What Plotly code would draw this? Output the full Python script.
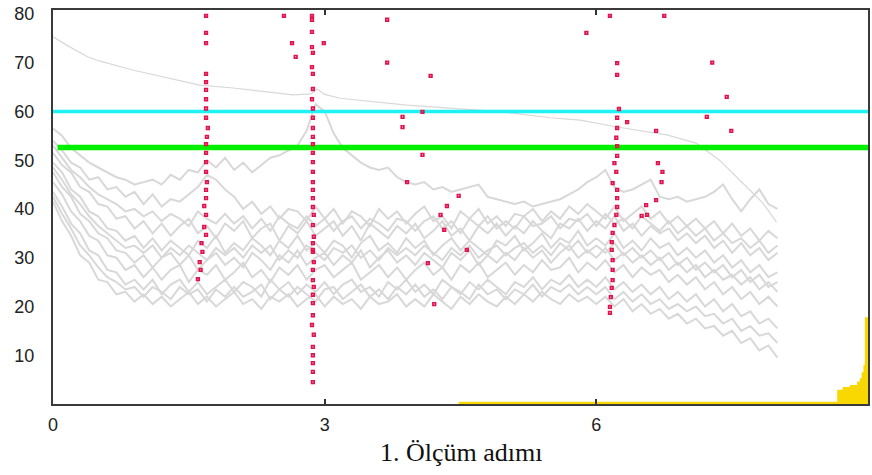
import plotly.graph_objects as go

# measurement grid (step 0.1 from 0 to 8)
x_grid = [round(i * 0.1, 1) for i in range(81)]

# smooth upper curve
top_x = [0, 0.15, 0.38, 0.52, 0.88, 1.26, 1.62, 1.99, 2.36, 2.65, 2.85, 2.92, 3.0, 3.17,
         3.91, 4.38, 4.97, 5.49, 5.82, 6.23, 6.78, 7.1, 7.36, 7.66, 7.84, 7.99]
top_y = [75.3, 73.6, 71.2, 70.3, 68.5, 66.9, 65.4, 64.8, 64.0, 63.4, 63.6, 64.6, 63.5, 62.7,
         61.3, 60.7, 59.9, 58.7, 58.2, 56.8, 55.2, 53.5, 50.0, 44.5, 41.2, 37.3]

s_peak = [56.5, 55.0, 52.5, 51.0, 49.5, 48.5, 47.5, 46.5, 46.0, 45.0,
          45.5, 46.0, 45.0, 47.0, 46.0, 48.0, 47.5, 50.0, 48.5, 50.5,
          48.0, 49.5, 47.5, 49.0, 50.5, 51.0, 52.0, 53.0, 56.0, 61.5,
          60.0, 55.5, 52.5, 51.0, 49.5, 48.5, 48.0, 48.5, 46.5, 45.5,
          45.0, 45.5, 44.0, 44.5, 43.5, 44.0, 44.5, 45.0, 42.5, 42.0,
          41.5, 41.0, 41.5, 40.5, 41.0, 41.5, 42.0, 43.0, 44.0, 45.5,
          46.5, 48.0, 44.5, 43.5, 44.0, 45.0, 46.0, 42.5, 42.0, 42.5,
          41.5, 42.0, 42.5, 43.5, 45.0, 42.0, 39.5, 42.0, 44.0, 41.0, 40.0]
s3 = [54.0, 52.0, 49.5, 48.5, 46.0, 46.5, 44.0, 44.5, 42.5, 43.5,
      41.0, 43.0, 40.5, 42.0, 41.5, 43.0, 44.5, 47.0, 46.0, 44.0,
      42.5, 40.0, 41.5, 39.0, 40.5, 38.0, 40.0, 39.5, 37.5, 40.5,
      38.0, 40.0, 37.0, 39.5, 38.5, 36.5, 40.0, 38.0, 39.5, 37.0,
      39.0, 40.5, 37.5, 38.5, 36.0, 39.5, 38.0, 40.0, 37.0, 38.5,
      36.5, 39.0, 38.5, 40.0, 37.5, 39.5, 38.0, 40.5, 39.0, 41.0,
      39.5, 38.0, 40.5, 37.5, 39.0, 40.5, 38.0, 39.5, 37.0, 38.5,
      36.5, 38.0, 36.0, 37.5, 35.0, 37.0, 34.5, 36.0, 33.5, 35.5, 34.0]
sA = [53.0, 50.5, 48.0, 46.5, 44.5, 43.0, 42.0, 41.0, 39.5, 40.0,
      38.5, 39.5, 37.5, 39.0, 38.0, 36.5, 39.5, 38.0, 37.0, 39.0,
      37.0, 38.5, 36.0, 38.0, 35.5, 38.5, 37.0, 36.0, 38.5, 36.5,
      38.0, 35.5, 37.5, 38.5, 36.0, 38.0, 37.0, 35.5, 38.0, 37.5,
      35.5, 37.5, 38.5, 36.0, 37.5, 35.0, 38.0, 36.5, 38.5, 36.0,
      37.5, 36.0, 38.5, 36.5, 37.0, 38.5, 36.0, 38.0, 37.5, 39.0,
      36.5, 39.0, 37.0, 38.0, 36.0, 38.5, 37.0, 35.5, 37.5, 35.0,
      36.5, 34.5, 36.0, 33.5, 35.0, 33.0, 34.0, 32.0, 33.5, 31.0, 32.5]
s4 = [51.5, 49.0, 47.5, 44.5, 43.5, 41.0, 40.5, 38.0, 38.5, 36.0,
      37.5, 35.0, 37.0, 34.5, 36.5, 38.0, 35.0, 36.5, 34.0, 37.0,
      35.5, 37.5, 34.0, 36.0, 37.0, 33.5, 36.5, 35.0, 37.5, 34.5,
      36.0, 37.5, 34.5, 36.5, 33.5, 37.0, 35.5, 34.0, 36.5, 35.0,
      37.0, 34.0, 35.5, 37.5, 34.5, 36.0, 33.5, 36.5, 35.0, 37.0,
      34.5, 36.5, 35.0, 37.5, 35.5, 34.0, 37.0, 36.0, 38.0, 35.5,
      37.5, 36.0, 38.5, 35.5, 37.0, 34.5, 36.5, 35.0, 36.0, 33.5,
      35.0, 33.0, 34.5, 32.0, 33.5, 31.0, 33.0, 30.5, 32.0, 29.5, 31.0]
s5 = [49.5, 47.5, 44.0, 42.5, 39.5, 38.5, 36.0, 35.5, 33.5, 34.5,
      32.0, 34.0, 31.5, 33.5, 32.0, 30.5, 33.5, 32.0, 34.5, 31.0,
      33.0, 31.5, 34.0, 32.5, 30.5, 33.5, 32.0, 34.5, 31.5, 33.0,
      31.0, 33.5, 32.5, 30.0, 33.0, 34.5, 31.5, 33.0, 31.0, 34.0,
      32.0, 33.5, 30.5, 32.5, 34.0, 31.5, 33.5, 32.0, 30.5, 33.5,
      32.5, 34.5, 31.5, 33.0, 35.0, 32.0, 34.0, 33.0, 35.5, 32.5,
      34.0, 32.5, 35.0, 32.0, 33.5, 31.5, 34.0, 32.0, 33.0, 30.5,
      32.0, 30.0, 31.5, 29.0, 30.5, 28.0, 29.5, 27.0, 28.5, 26.0, 27.0]
sB = [48.5, 46.0, 43.0, 41.0, 38.5, 36.5, 35.0, 33.5, 32.0, 32.5,
      31.0, 32.5, 30.0, 32.0, 30.5, 32.5, 31.0, 29.5, 32.0, 30.5,
      32.0, 30.0, 32.5, 31.0, 32.5, 29.5, 31.5, 30.0, 32.5, 31.0,
      29.5, 32.0, 31.0, 32.5, 30.0, 31.5, 29.5, 32.0, 30.5, 32.0,
      30.5, 32.5, 31.0, 29.5, 32.0, 30.5, 32.5, 30.0, 31.5, 32.5,
      30.5, 32.0, 33.0, 31.0, 32.5, 30.5, 33.0, 31.5, 33.5, 31.0,
      32.5, 31.0, 33.0, 30.5, 32.0, 30.0, 31.5, 29.5, 31.0, 28.5,
      30.0, 27.5, 29.0, 27.0, 28.5, 26.0, 27.5, 25.0, 26.5, 24.0, 25.0]
s6 = [47.5, 44.5, 42.5, 39.0, 37.5, 35.0, 34.0, 31.5, 31.0, 29.0,
      30.5, 28.0, 30.0, 31.0, 28.5, 30.5, 27.5, 29.5, 31.0, 28.5,
      30.0, 28.0, 31.0, 29.5, 27.5, 30.5, 29.0, 31.5, 28.5, 30.0,
      31.0, 28.5, 30.5, 29.0, 31.5, 28.0, 30.0, 31.5, 29.0, 30.5,
      28.5, 31.0, 29.5, 28.0, 31.0, 29.5, 31.5, 28.5, 30.5, 29.0,
      31.0, 29.5, 32.0, 30.0, 31.5, 29.0, 31.0, 32.5, 30.0, 31.5,
      30.0, 32.0, 29.5, 31.0, 29.0, 30.5, 28.5, 30.0, 27.5, 29.0,
      27.0, 28.5, 26.0, 27.5, 25.5, 26.5, 24.5, 26.0, 23.5, 25.0, 23.0]
s7 = [45.5, 43.0, 39.5, 37.5, 34.5, 33.5, 30.5, 30.0, 27.5, 28.5,
      26.0, 28.0, 25.5, 27.5, 28.5, 25.0, 27.5, 26.5, 28.5, 25.5,
      27.0, 29.0, 26.0, 27.5, 25.0, 28.0, 26.5, 28.5, 25.5, 27.5,
      28.5, 26.0, 27.5, 29.0, 25.5, 27.0, 28.5, 26.0, 28.0, 25.5,
      27.5, 29.0, 26.5, 28.0, 25.5, 28.5, 27.0, 29.0, 26.0, 27.5,
      29.0, 26.5, 28.5, 27.0, 29.5, 27.5, 28.0, 30.0, 27.0, 29.0,
      27.5, 29.5, 27.0, 28.5, 26.0, 28.0, 26.5, 27.5, 25.0, 26.5,
      24.5, 26.0, 23.5, 25.0, 22.5, 24.0, 21.5, 23.0, 20.5, 22.0, 20.0]
s8 = [43.5, 40.5, 37.0, 35.0, 31.5, 30.5, 27.5, 27.0, 24.5, 25.5,
      23.5, 25.5, 22.5, 24.5, 25.5, 23.0, 25.0, 22.5, 24.0, 25.5,
      23.0, 25.0, 24.0, 22.0, 25.5, 23.5, 25.0, 22.5, 24.5, 23.0,
      25.0, 22.5, 24.5, 25.5, 23.0, 24.0, 22.0, 25.0, 23.5, 25.5,
      23.0, 24.5, 22.5, 25.5, 24.0, 22.5, 25.0, 23.5, 25.5, 24.0,
      22.5, 25.0, 24.0, 26.0, 23.5, 25.5, 24.5, 26.5, 24.0, 25.5,
      24.0, 26.0, 23.5, 25.0, 23.0, 24.5, 22.5, 24.0, 21.5, 23.0,
      21.0, 22.5, 20.0, 21.5, 19.0, 20.5, 18.0, 19.0, 16.5, 17.5, 15.5]
sC = [42.5, 39.0, 36.0, 32.5, 30.5, 28.0, 26.0, 25.0, 23.5, 24.0,
      22.0, 24.0, 23.0, 21.5, 24.0, 22.5, 23.5, 21.0, 23.5, 22.0,
      24.0, 22.0, 23.0, 24.5, 21.5, 23.5, 22.0, 24.0, 22.5, 21.0,
      23.5, 24.0, 21.5, 23.0, 24.5, 22.0, 23.5, 21.5, 24.0, 22.5,
      24.5, 22.0, 23.5, 21.5, 24.0, 23.0, 21.5, 24.5, 22.5, 23.5,
      21.5, 23.5, 22.5, 24.5, 22.0, 24.0, 23.0, 24.5, 22.5, 24.0,
      22.5, 24.0, 21.5, 23.0, 21.0, 22.5, 20.5, 21.5, 19.5, 20.5,
      19.0, 20.0, 18.0, 18.5, 16.5, 17.5, 15.0, 16.0, 14.0, 14.5, 12.5]
s9 = [41.5, 37.5, 34.5, 30.5, 29.0, 25.5, 25.0, 22.5, 23.0, 21.0,
      22.5, 20.5, 22.0, 20.0, 21.5, 23.0, 20.5, 22.0, 20.0, 21.5,
      23.0, 20.5, 21.5, 19.5, 22.0, 21.0, 22.5, 20.0, 21.5, 22.5,
      20.0, 22.0, 20.5, 21.5, 19.5, 22.0, 20.5, 21.0, 22.5, 20.0,
      21.5, 20.0, 22.5, 21.0, 19.5, 22.0, 20.5, 22.5, 21.0, 20.0,
      22.0, 20.5, 22.5, 21.0, 23.0, 21.5, 20.5, 22.5, 21.0, 22.0,
      20.5, 22.0, 20.0, 21.5, 19.0, 20.5, 18.5, 19.5, 17.5, 18.5,
      16.5, 17.5, 15.5, 16.0, 14.0, 15.0, 12.5, 13.5, 11.0, 12.0, 9.5]

band_series = [s_peak, s3, sA, s4, s5, sB, s6, s7, s8, sC, s9]

# threshold levels
cyan_level = 60.0
green_level = 52.6

# yellow distribution at bottom
yel_x = [4.48, 5.0, 6.0, 7.0, 8.0, 8.6, 8.66, 8.72, 8.8, 8.88, 8.91, 8.93, 8.95, 8.965, 9.0]
yel_y = [0.45, 0.45, 0.45, 0.45, 0.45, 0.45, 2.9, 3.5, 3.9, 4.6, 5.3, 6.5, 8.0, 17.8, 17.8]

# red points
red_x = [1.69, 1.69, 1.69, 1.69, 1.69, 1.69, 1.69, 1.69, 1.69, 1.71, 1.70, 1.69, 1.69, 1.69,
         1.69, 1.70, 1.69, 1.69, 1.67, 1.69, 1.67, 1.69, 1.64, 1.65, 1.62, 1.63, 1.60,
         2.86, 2.86, 2.86, 2.86, 2.87, 2.86, 2.87, 2.87, 2.86, 2.87, 2.87, 2.87, 2.87, 2.87,
         2.87, 2.87, 2.87, 2.87, 2.87, 2.87, 2.87, 2.88, 2.87, 2.88, 2.87, 2.87, 2.88, 2.87,
         2.87, 2.88, 2.87, 2.87, 2.87, 2.86, 2.88, 2.87, 2.87, 2.87, 2.87, 2.87, 2.87,
         2.55, 2.64, 2.68, 2.99,
         6.23, 6.23, 6.25, 6.23, 6.23, 6.22, 6.23, 6.23, 6.20, 6.22, 6.18, 6.23, 6.23, 6.23,
         6.22, 6.20, 6.18, 6.17, 6.17, 6.18, 6.18, 6.18, 6.17, 6.16, 6.15, 6.15, 6.15,
         5.89, 7.28, 7.44, 7.22, 7.49, 6.34, 6.66, 6.68, 6.73, 6.72, 6.66, 6.55, 6.56, 6.50, 6.75,
         3.69, 3.69, 4.17, 4.08, 3.86, 3.86, 4.08, 3.91, 4.48, 4.35, 4.28, 4.32, 4.57, 4.14, 4.21, 3.41]
red_y = [79.6, 76.1, 74.0, 67.7, 66.0, 64.4, 62.5, 60.6, 58.7, 56.6, 54.8, 53.3, 51.5, 49.6,
         47.6, 45.5, 43.9, 42.2, 40.6, 38.8, 36.3, 34.7, 33.0, 31.2, 29.1, 27.5, 25.6,
         79.6, 78.8, 76.3, 73.2, 72.0, 69.1, 67.7, 64.6, 62.5, 60.6, 58.7, 56.6, 54.8, 53.3,
         51.5, 49.6, 47.6, 45.5, 43.9, 42.2, 40.4, 38.8, 36.7, 34.3, 33.0, 31.2, 29.1, 27.5,
         25.4, 24.0, 22.4, 20.7, 18.2, 16.2, 14.2, 11.7, 10.0, 8.4, 6.6, 4.5,
         31.6, 79.6, 74.0, 71.2,
         74.0, 69.9, 67.5, 60.5, 58.7, 56.6, 54.6, 52.9, 50.9, 49.4, 47.6, 45.3, 43.9, 42.2,
         40.4, 38.8, 36.7, 35.1, 33.2, 31.6, 29.5, 27.5, 25.4, 23.8, 21.9, 19.9, 18.7,
         79.6, 76.1, 70.0, 63.0, 58.9, 56.0, 57.8, 56.0, 49.4, 47.6, 45.5, 41.8, 40.8, 38.8, 38.6,
         79.6, 78.8, 70.0, 67.3, 59.9, 58.9, 56.8, 51.1, 45.5, 42.7, 40.6, 38.8, 35.7, 31.6, 28.9, 20.5]

x_ticks = [0, 3, 6, 9]
y_ticks = [10, 20, 30, 40, 50, 60, 70, 80]
x_title = "1. Ölçüm adımı"

GREY = "#d8d8d8"
RED = "#e3124c"
fig = go.Figure()

for s in band_series:
    fig.add_trace(go.Scatter(x=x_grid, y=s, mode="lines",
                             line=dict(color=GREY, width=2), hoverinfo="skip"))
fig.add_trace(go.Scatter(x=top_x, y=top_y, mode="lines",
                         line=dict(color=GREY, width=1.2), hoverinfo="skip"))

fig.add_trace(go.Scatter(x=yel_x, y=yel_y, mode="lines", fill="tozeroy",
                         line=dict(color="#f8d800", width=0, shape="hv"),
                         fillcolor="#f8d800", hoverinfo="skip"))

fig.add_trace(go.Scatter(x=[0, 9], y=[cyan_level, cyan_level], mode="lines",
                         line=dict(color="#1ff2f2", width=3.5)))
fig.add_trace(go.Scatter(x=[0.05, 9], y=[green_level, green_level], mode="lines",
                         line=dict(color="#00f000", width=5.5)))

fig.add_trace(go.Scatter(x=red_x, y=red_y, mode="markers",
                         marker=dict(symbol="square-open", size=2.6, color=RED,
                                     line=dict(color=RED, width=1.7))))

axis_font = dict(family="Liberation Sans, Arial", size=18, color="#222222")
fig.update_layout(
    width=872, height=475,
    margin=dict(l=53, r=4, t=10, b=71, autoexpand=False),
    paper_bgcolor="white", plot_bgcolor="white",
    showlegend=False,
    xaxis=dict(range=[0, 9], tickvals=x_ticks, ticks="inside", ticklen=5,
               tickwidth=2, tickcolor="#333333", automargin=False,
               showline=True, linecolor="#3a3a3a", linewidth=2, mirror="ticks",
               showgrid=False, zeroline=False, tickfont=axis_font,
               ticklabelstandoff=3),
    yaxis=dict(range=[0, 80.8], tickvals=y_ticks, ticks="", automargin=False,
               showline=True, linecolor="#3a3a3a", linewidth=2, mirror=True,
               showgrid=False, zeroline=False, tickfont=axis_font,
               ticklabelstandoff=13),
    annotations=[dict(text=x_title, xref="paper", yref="paper", x=0.5, y=-0.122,
                      xanchor="center", yanchor="middle", showarrow=False,
                      font=dict(family="Liberation Serif, Times New Roman",
                                size=26, color="#111111"))],
)

fig.write_html(
    "out.html",
    config={"displayModeBar": False},
    post_script="document.body.style.margin='0px';document.body.style.padding='0px';"
                "document.body.style.overflow='hidden';",
)
